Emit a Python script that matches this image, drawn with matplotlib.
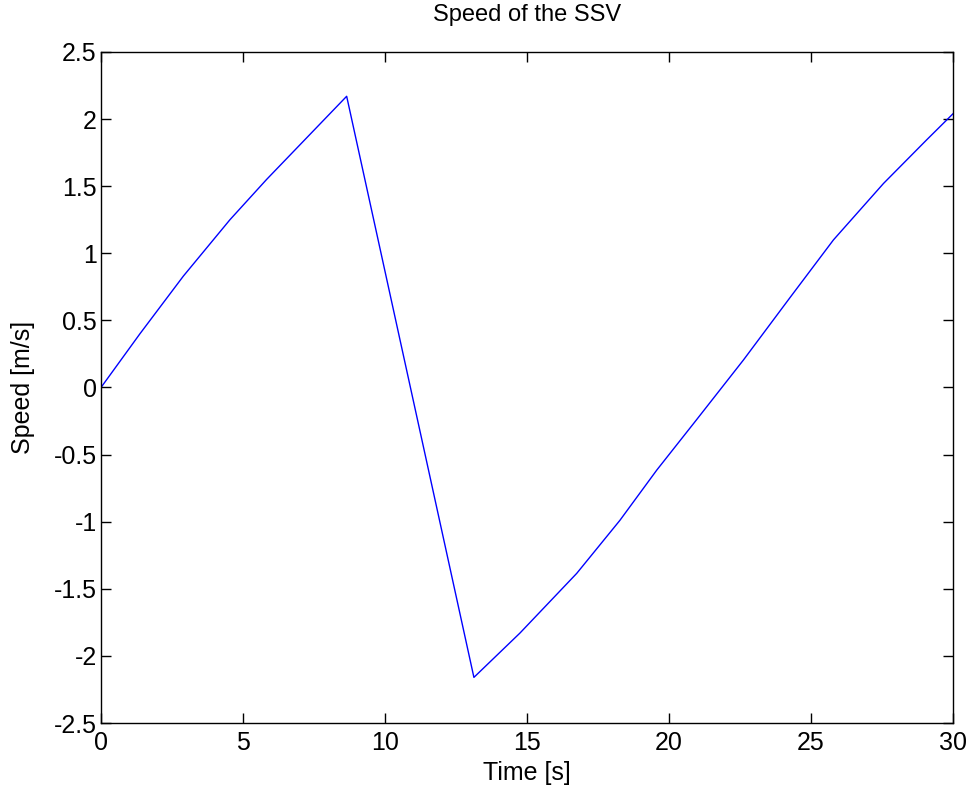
#!/usr/bin/env python3

import matplotlib
matplotlib.use("Agg")
import matplotlib.pyplot as plt

# speed of the SSV
time_s = [0.0, 1.37, 2.90, 4.54, 5.83, 8.65, 13.13, 14.75, 16.75, 18.27,
          19.57, 20.97, 22.62, 24.26, 25.79, 27.55, 29.07, 30.0]
speed_ms = [0.0, 0.40, 0.83, 1.25, 1.55, 2.17, -2.16, -1.83, -1.385, -0.99,
            -0.615, -0.24, 0.205, 0.67, 1.10, 1.52, 1.845, 2.04]

x_ticks = [0, 5, 10, 15, 20, 25, 30]
y_ticks = [-2.5, -2, -1.5, -1, -0.5, 0, 0.5, 1, 1.5, 2, 2.5]
y_labels = ["-2.5", "-2", "-1.5", "-1", "-0.5", "0", "0.5", "1", "1.5", "2", "2.5"]

plt.rcParams["font.family"] = ["Liberation Sans", "DejaVu Sans"]
plt.rcParams["axes.unicode_minus"] = False

FS = 18

fig = plt.figure(figsize=(9.72, 7.96), dpi=100)
ax = fig.add_axes([0.1039, 0.0917, 0.8766, 0.843])

ax.plot(time_s, speed_ms, color="#0000ff", linewidth=1.0)

ax.set_xlim(0, 30)
ax.set_ylim(-2.5, 2.5)
ax.set_xticks(x_ticks)
ax.set_xticklabels([str(v) for v in x_ticks])
ax.set_yticks(y_ticks)
ax.set_yticklabels(y_labels)

ax.tick_params(direction="in", top=True, right=True, length=7, width=1,
               labelsize=FS)
ax.tick_params(axis="x", pad=6)
ax.tick_params(axis="y", pad=3)
for sp in ax.spines.values():
    sp.set_linewidth(1.0)

ax.set_title("Speed of the SSV", fontsize=FS - 1, pad=22)
ax.set_xlabel("Time [s]", fontsize=FS, labelpad=4)
ax.set_ylabel("Speed [m/s]", fontsize=FS)
ax.yaxis.set_label_coords(-0.078, 0.5)

fig.savefig("out.png", dpi=100)
